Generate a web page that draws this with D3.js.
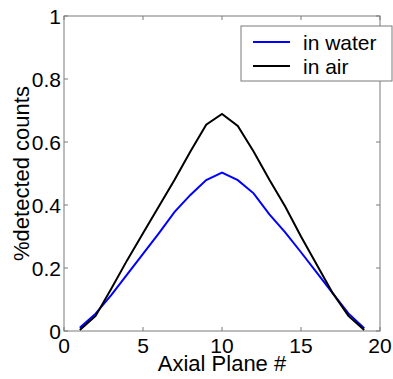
<!DOCTYPE html>
<meta charset="utf-8">
<head>
  <title>axial plane counts</title>
</head>
<style>
  body { margin: 0; background: #fff; }
  text { font-family: Arial, "Liberation Sans", sans-serif; fill: #000; }
</style>
<body>
  <svg width="393" height="379"></svg>
  <script src="https://cdnjs.cloudflare.com/ajax/libs/d3/7.8.5/d3.min.js"></script>
  <script>
    // axial plane numbers
    var planes = [1, 2, 3, 4, 5, 6, 7, 8, 9, 10, 11, 12, 13, 14, 15, 16, 17, 18, 19]
    var inWater = [0.01, 0.055, 0.115, 0.18, 0.245, 0.31, 0.378, 0.432, 0.479, 0.503, 0.479, 0.437, 0.37, 0.313, 0.25, 0.185, 0.12, 0.056, 0.009]
    var inAir = [0.003, 0.048, 0.135, 0.225, 0.31, 0.395, 0.48, 0.57, 0.655, 0.689, 0.651, 0.57, 0.48, 0.395, 0.30, 0.21, 0.121, 0.048, 0.003]
    var xTicks = [0, 5, 10, 15, 20]
    var yTicks = [0, 0.2, 0.4, 0.6, 0.8, 1]
    var seriesNames = ['in water', 'in air']
    var seriesColors = ['#0000ff', '#000000']

    // plot box (note: "top" is reserved on window, so use px*)
    var pxL = 64, pxR = 380, pxT = 16, pxB = 331
    var svg = d3.select('svg')

    var x = d3.scaleLinear().domain([0, 20]).range([pxL, pxR])
    var y = d3.scaleLinear().domain([0, 1]).range([pxB, pxT])

    var axisColor = '#7a7a7a'

    // frame
    svg.append('rect')
      .attr('x', pxL).attr('y', pxT)
      .attr('width', pxR - pxL).attr('height', pxB - pxT)
      .attr('fill', 'none').attr('stroke', axisColor).attr('stroke-width', 1)

    // inward ticks on all four sides
    var tl = 4
    xTicks.forEach(function(t) {
      svg.append('line').attr('x1', x(t)).attr('x2', x(t)).attr('y1', pxB).attr('y2', pxB - tl).attr('stroke', axisColor)
      svg.append('line').attr('x1', x(t)).attr('x2', x(t)).attr('y1', pxT).attr('y2', pxT + tl).attr('stroke', axisColor)
      svg.append('text').attr('x', x(t)).attr('y', pxB + 22)
        .attr('text-anchor', 'middle').attr('font-size', 21).text(t)
    })
    yTicks.forEach(function(t) {
      svg.append('line').attr('x1', pxL).attr('x2', pxL + tl).attr('y1', y(t)).attr('y2', y(t)).attr('stroke', axisColor)
      svg.append('line').attr('x1', pxR).attr('x2', pxR - tl).attr('y1', y(t)).attr('y2', y(t)).attr('stroke', axisColor)
      svg.append('text').attr('x', pxL - 3).attr('y', y(t) + 7.5)
        .attr('text-anchor', 'end').attr('font-size', 21).text(t)
    })

    // axis labels
    svg.append('text').attr('x', (pxL + pxR) / 2).attr('y', 371)
      .attr('text-anchor', 'middle').attr('font-size', 22).text('Axial Plane #')
    svg.append('text')
      .attr('transform', 'translate(29,' + ((pxT + pxB) / 2) + ') rotate(-90)')
      .attr('text-anchor', 'middle').attr('font-size', 22).text('%detected counts')

    // lines
    var line = d3.line()
      .x(function(d) { return x(d[0]) })
      .y(function(d) { return y(d[1]) })

    ;[inWater, inAir].forEach(function(vals, i) {
      svg.append('path')
        .datum(planes.map(function(p, j) { return [p, vals[j]] }))
        .attr('d', line)
        .attr('fill', 'none')
        .attr('stroke', seriesColors[i])
        .attr('stroke-width', 2)
    })

    // legend
    var lg = svg.append('g')
    lg.append('rect').attr('x', 241).attr('y', 26).attr('width', 151).attr('height', 55)
      .attr('fill', '#fff').attr('stroke', axisColor)
    seriesNames.forEach(function(n, i) {
      var ly = 42 + i * 24
      lg.append('line').attr('x1', 253).attr('x2', 290).attr('y1', ly).attr('y2', ly)
        .attr('stroke', seriesColors[i]).attr('stroke-width', 2)
      lg.append('text').attr('x', 303).attr('y', ly + 7.5).attr('font-size', 21).text(n)
    })
  </script>
</body>
</html>
